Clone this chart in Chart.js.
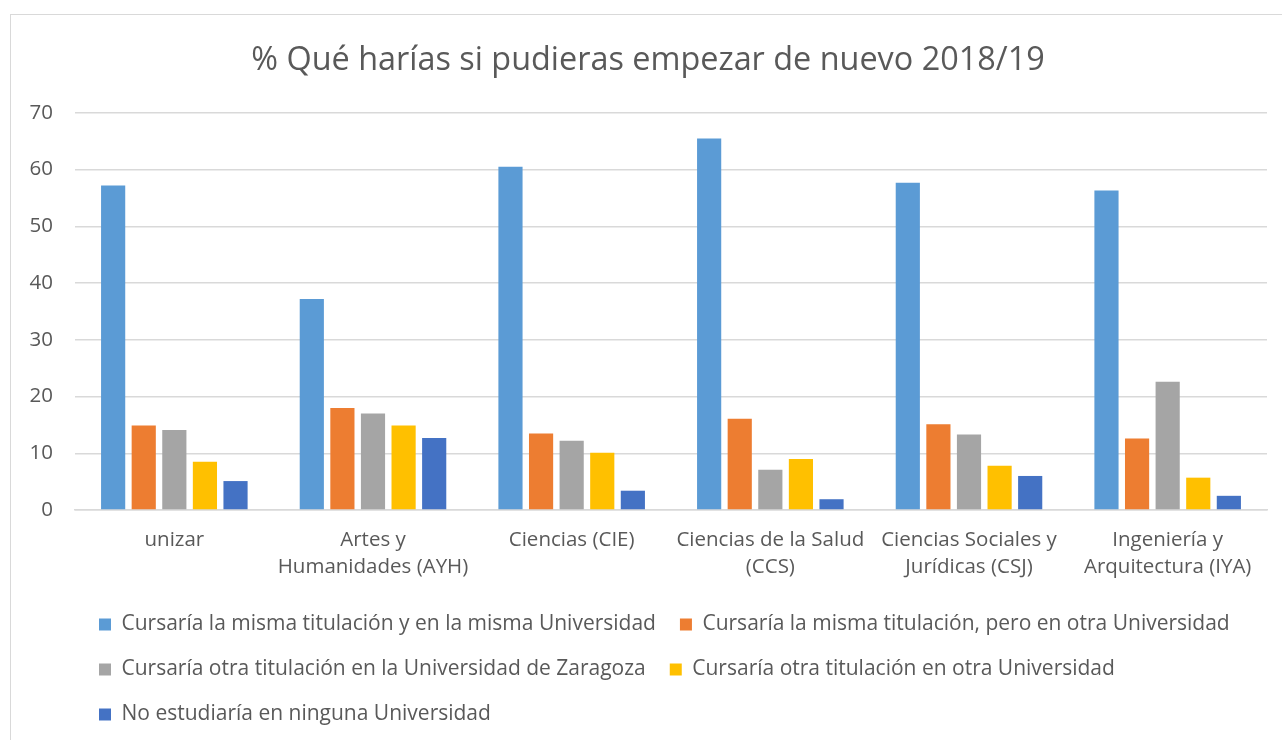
<!DOCTYPE html>
<html>
<head>
<meta charset="utf-8">
<script src="https://cdn.jsdelivr.net/npm/chart.js@4/dist/chart.umd.min.js"></script>
<style>
  html, body { margin: 0; padding: 0; background: #fff; overflow: hidden; }
  #frame {
    position: absolute; left: 10px; top: 14px;
    width: 1300px; height: 760px;
    border: 1px solid #d9d9d9;
  }
  #wrap { position: absolute; left: 0; top: 0; width: 1271px; height: 725px; }
</style>
</head>
<body>
<div id="frame"><div id="wrap"><canvas id="chart"></canvas></div></div>
<script>
const categories = [
    "unizar",
    ["Artes y", "Humanidades (AYH)"],
    "Ciencias (CIE)",
    ["Ciencias de la Salud", "(CCS)"],
    ["Ciencias Sociales y", "Jurídicas (CSJ)"],
    ["Ingeniería y", "Arquitectura (IYA)"]
];

const seriesNames = [
    "Cursaría la misma titulación y en la misma Universidad",
    "Cursaría la misma titulación, pero en otra Universidad",
    "Cursaría otra titulación en la Universidad de Zaragoza",
    "Cursaría otra titulación en otra Universidad",
    "No estudiaría en ninguna Universidad"
];

const mismaTitMismaUni = [57.2, 37.2, 60.5, 65.5, 57.7, 56.3];
const mismaTitOtraUni = [14.9, 18.0, 13.5, 16.1, 15.1, 12.6];
const otraTitZaragoza = [14.1, 17.0, 12.2, 7.1, 13.3, 22.6];
const otraTitOtraUni = [8.5, 14.9, 10.1, 9.0, 7.8, 5.7];
const noEstudiaria = [5.1, 12.7, 3.4, 1.9, 6.0, 2.5];

const colors = ["#5B9BD5", "#ED7D31", "#A5A5A5", "#FFC000", "#4472C4"];
const allSeries = [mismaTitMismaUni, mismaTitOtraUni, otraTitZaragoza, otraTitOtraUni, noEstudiaria];

const textColor = "#595959";
const gridColor = "#d9d9d9";
const fontFamily = "'Open Sans', 'DejaVu Sans', sans-serif";

const datasets = allSeries.map((values, i) => ({
    label: seriesNames[i],
    data: values,
    backgroundColor: colors[i],
    borderWidth: 0,
    barPercentage: 0.79,
    categoryPercentage: 0.77
}));

new Chart(document.getElementById("chart"), {
    type: "bar",
    data: { labels: categories, datasets },
    options: {
        responsive: true,
        maintainAspectRatio: false,
        animation: false,
        layout: { padding: { left: 18, right: 15, top: 0, bottom: 5 } },
        plugins: {
            title: {
                display: true,
                text: "% Qué harías si pudieras empezar de nuevo 2018/19",
                color: textColor,
                font: { family: fontFamily, size: 32.4, weight: "normal" },
                padding: { top: 26, bottom: 33 }
            },
            legend: {
                position: "bottom",
                align: "start",
                fullSize: false,
                labels: {
                    boxWidth: 12,
                    boxHeight: 12,
                    padding: 24,
                    color: textColor,
                    font: { family: fontFamily, size: 21 }
                }
            },
            tooltip: { enabled: false }
        },
        scales: {
            x: {
                grid: { display: false, drawTicks: false },
                border: { display: true, color: gridColor, width: 1.5 },
                ticks: {
                    color: textColor,
                    font: { family: fontFamily, size: 20.5, lineHeight: 1.3 },
                    padding: 17,
                    maxRotation: 0,
                    autoSkip: false
                },
                afterFit: (scale) => { scale.height = 80; }
            },
            y: {
                min: 0,
                max: 70,
                grid: { color: gridColor, lineWidth: 1.5, drawTicks: false },
                border: { display: false },
                ticks: {
                    stepSize: 10,
                    color: textColor,
                    font: { family: fontFamily, size: 20.5 },
                    padding: 22
                },
                afterFit: (scale) => { scale.width = 46; }
            }
        }
    }
});
</script>
</body>
</html>
